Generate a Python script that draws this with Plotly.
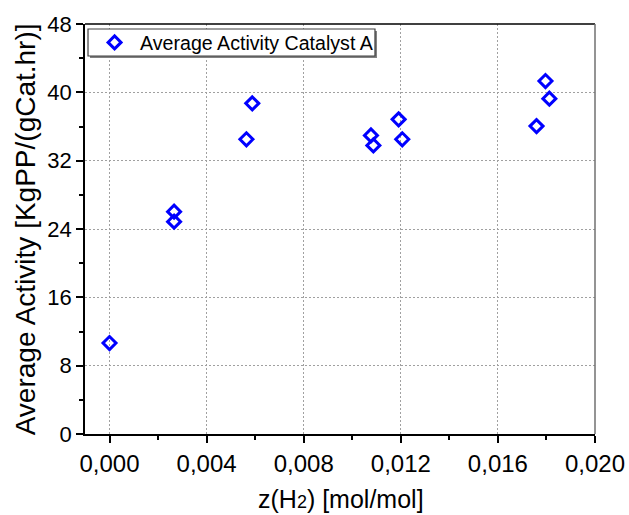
import plotly.graph_objects as go

# Hydrogen fraction in the feed and measured average activity
z_h2 = [0.0, 0.00266, 0.00266, 0.00564, 0.00588, 0.01077, 0.01087,
        0.01191, 0.01206, 0.01759, 0.01796, 0.01812]
activity = [10.65, 26.03, 24.86, 34.5, 38.71, 34.96, 33.79,
            36.84, 34.5, 36.05, 41.32, 39.26]
series_name = "Average Activity Catalyst A"

x_ticks = [0.000, 0.004, 0.008, 0.012, 0.016, 0.020]
y_ticks = [0, 8, 16, 24, 32, 40, 48]

FONT = "Liberation Sans, Arial, sans-serif"
BLUE = "#0000FF"
GRID = "#A0A0A0"

fig = go.Figure()
fig.add_trace(go.Scatter(
    x=z_h2, y=activity, mode="markers", name=series_name,
    marker=dict(symbol="diamond-open", size=10, color=BLUE,
                line=dict(width=3, color=BLUE)),
))

# legend frame (drawn as shapes so its height stays compact)
box = dict(x0=0.0059, x1=0.5686, y0=0.922, y1=0.9878)
shadow_dx, shadow_dy = 2 / 510, 2 / 410

fig.update_layout(
    width=629, height=515,
    margin=dict(l=85, r=34, t=24, b=81, autoexpand=False),
    paper_bgcolor="white", plot_bgcolor="white",
    separators=",.",
    font=dict(family=FONT, color="black"),
    showlegend=True,
    legend=dict(
        x=0.008, y=1.002, xanchor="left", yanchor="top",
        bgcolor="rgba(0,0,0,0)", borderwidth=0,
        font=dict(size=19.6, family=FONT),
        itemwidth=41,
    ),
    xaxis=dict(
        range=[-0.00101, 0.020], tickvals=x_ticks, tickformat=".3f",
        automargin=False,
        showline=True, linecolor="black", linewidth=1.5,
        ticks="outside", ticklen=7, tickwidth=1.5, tickcolor="black",
        minor=dict(ticks="outside", ticklen=4, tickwidth=1.5,
                   tickcolor="black", dtick=0.002, tick0=0, showgrid=False),
        showgrid=True, gridcolor=GRID, gridwidth=1, griddash="2px,2px",
        zeroline=False,
        tickfont=dict(size=24, family=FONT),
    ),
    yaxis=dict(
        range=[0, 48], tickvals=y_ticks,
        automargin=False,
        showline=True, linecolor="black", linewidth=1.5,
        ticks="outside", ticklen=7, tickwidth=1.5, tickcolor="black",
        minor=dict(ticks="outside", ticklen=4, tickwidth=1.5,
                   tickcolor="black", dtick=4, tick0=0, showgrid=False),
        showgrid=True, gridcolor=GRID, gridwidth=1, griddash="2px,2px",
        zeroline=False,
        tickfont=dict(size=22, family=FONT),
    ),
    shapes=[
        # top frame line
        dict(type="line", xref="paper", yref="paper", x0=0, x1=1, y0=1, y1=1,
             line=dict(color="black", width=1.5)),
        # right frame line
        dict(type="line", xref="paper", yref="paper", x0=1, x1=1, y0=0, y1=1,
             line=dict(color="#707070", width=1.5)),
        # legend shadow and box
        dict(type="rect", xref="paper", yref="paper", layer="above",
             x0=box["x0"] + shadow_dx, x1=box["x1"] + shadow_dx,
             y0=box["y0"] - shadow_dy, y1=box["y1"] - shadow_dy,
             fillcolor="#808080", line=dict(width=0)),
        dict(type="rect", xref="paper", yref="paper", layer="above",
             x0=box["x0"], x1=box["x1"], y0=box["y0"], y1=box["y1"],
             fillcolor="white", line=dict(color="#404040", width=1.2)),
    ],
    annotations=[
        dict(text="z(H<span style=\"font-size:18px\">2</span>) [mol/mol]",
             xref="paper", yref="paper", x=0.502, y=-0.158,
             xanchor="center", yanchor="middle", showarrow=False,
             font=dict(size=25, family=FONT)),
        dict(text="Average Activity [KgPP/(gCat.hr)]",
             xref="paper", yref="paper", x=-0.117, y=0.5,
             xanchor="center", yanchor="middle", textangle=-90,
             showarrow=False, font=dict(size=28, family=FONT)),
    ],
)

fig.write_html("out.html")
